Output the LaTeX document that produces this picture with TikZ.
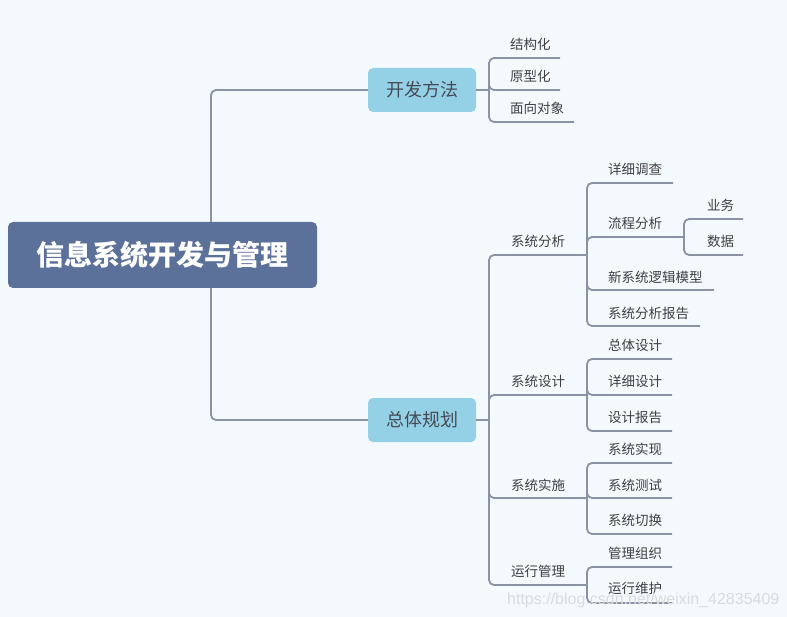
\documentclass[tikz,border=0pt]{standalone}
\usepackage{fontspec}
\newfontfamily\cjk{Noto Sans CJK SC}
\newfontfamily\wmfont{Liberation Sans}
\definecolor{bgc}{HTML}{F4F9FD}
\definecolor{rootc}{HTML}{5B7199}
\definecolor{midc}{HTML}{94D0E6}
\definecolor{linec}{HTML}{8A93A6}
\definecolor{txtc}{HTML}{404040}
\definecolor{midtxt}{HTML}{454B55}
\begin{document}
\begin{tikzpicture}[x=1pt,y=-1pt,
  conn/.style={draw=linec, line width=1.8pt, rounded corners=5pt},
  lbl/.style={anchor=west, inner sep=0pt, text=txtc, font=\cjk\fontsize{13.5}{14}\selectfont},
  midbox/.style={fill=midc, rounded corners=5pt, minimum width=108pt, minimum height=44pt, inner sep=0pt, text=midtxt, font=\cjk\fontsize{18}{20}\selectfont},
  rootbox/.style={fill=rootc, rounded corners=5pt, minimum width=309pt, minimum height=66pt, inner sep=0pt, text=white, font=\cjk\bfseries\fontsize{28}{30}\selectfont}]
\fill[bgc] (0,0) rectangle (787,617);
\useasboundingbox (0,0) rectangle (787,617);

% main nodes
\node[rootbox] (root) at (162.5,255) {信息系统开发与管理};
\node[midbox] (m1) at (422,90) {开发方法};
\node[midbox] (m2) at (422,420) {总体规划};
\coordinate (rt) at (211,222);
\coordinate (rb) at (211,288);
\draw[conn] (rt) |- (m1.west);
\draw[conn] (rb) |- (m2.west);

% junctions
\coordinate (j1) at (489,90);
\coordinate (j2) at (489,420);
\draw[conn] (m1.east) -- (j1);
\draw[conn] (m2.east) -- (j2);

% level 2 under 开发方法
\coordinate (e11) at (560,58);
\coordinate (e12) at (560,90);
\coordinate (e13) at (574,122);
\node[lbl] (a11) at (510,44) {结构化};
\node[lbl] (a12) at (510,76) {原型化};
\node[lbl] (a13) at (510,108) {面向对象};
\draw[conn] (j1) |- (e11);
\draw[conn] (j1) |- (e12);
\draw[conn] (j1) |- (e13);

% level 2 under 总体规划
\coordinate (s1) at (587,255);
\coordinate (s2) at (587,395);
\coordinate (s3) at (587,498);
\coordinate (s4) at (587,585);
\node[lbl] (b1) at (511,241) {系统分析};
\node[lbl] (b2) at (511,381) {系统设计};
\node[lbl] (b3) at (511,485) {系统实施};
\node[lbl] (b4) at (511,571) {运行管理};
\draw[conn] (j2) |- (s1);
\draw[conn] (j2) |- (s2);
\draw[conn] (j2) |- (s3);
\draw[conn] (j2) |- (s4);

% 系统分析 children
\coordinate (f11) at (673,183);
\coordinate (f12) at (684,237);
\coordinate (f13) at (714,290);
\coordinate (f14) at (700,326);
\node[lbl] (c11) at (608,169) {详细调查};
\node[lbl] (c12) at (608,223) {流程分析};
\node[lbl] (c13) at (608,277) {新系统逻辑模型};
\node[lbl] (c14) at (608,313) {系统分析报告};
\draw[conn] (s1) |- (f11);
\draw[conn] (s1) |- (f12);
\draw[conn] (s1) |- (f13);
\draw[conn] (s1) |- (f14);

% 流程分析 children
\coordinate (g1) at (743,219);
\coordinate (g2) at (743,255);
\node[lbl] (d1) at (707,205) {业务};
\node[lbl] (d2) at (707,241) {数据};
\draw[conn] (f12) |- (g1);
\draw[conn] (f12) |- (g2);

% 系统设计 children
\coordinate (f21) at (672,359);
\coordinate (f22) at (672,395);
\coordinate (f23) at (672,431);
\node[lbl] (c21) at (608,345) {总体设计};
\node[lbl] (c22) at (608,381) {详细设计};
\node[lbl] (c23) at (608,417) {设计报告};
\draw[conn] (s2) |- (f21);
\draw[conn] (s2) |- (f22);
\draw[conn] (s2) |- (f23);

% 系统实施 children
\coordinate (f31) at (672,463);
\coordinate (f32) at (672,498);
\coordinate (f33) at (672,534);
\node[lbl] (c31) at (608,449) {系统实现};
\node[lbl] (c32) at (608,485) {系统测试};
\node[lbl] (c33) at (608,520) {系统切换};
\draw[conn] (s3) |- (f31);
\draw[conn] (s3) |- (f32);
\draw[conn] (s3) |- (f33);

% 运行管理 children
\coordinate (f41) at (672,567);
\coordinate (f42) at (672,603);
\node[lbl] (c41) at (608,553) {管理组织};
\node[lbl] (c42) at (608,588) {运行维护};
\draw[conn] (s4) |- (f41);
\draw[conn] (s4) |- (f42);

% watermark
\node[anchor=west, inner sep=0pt, text=black!14, font=\wmfont\fontsize{16}{17}\selectfont] (wm) at (507,600) {https://blog.csdn.net/weixin\_42835409};
\end{tikzpicture}
\end{document}
